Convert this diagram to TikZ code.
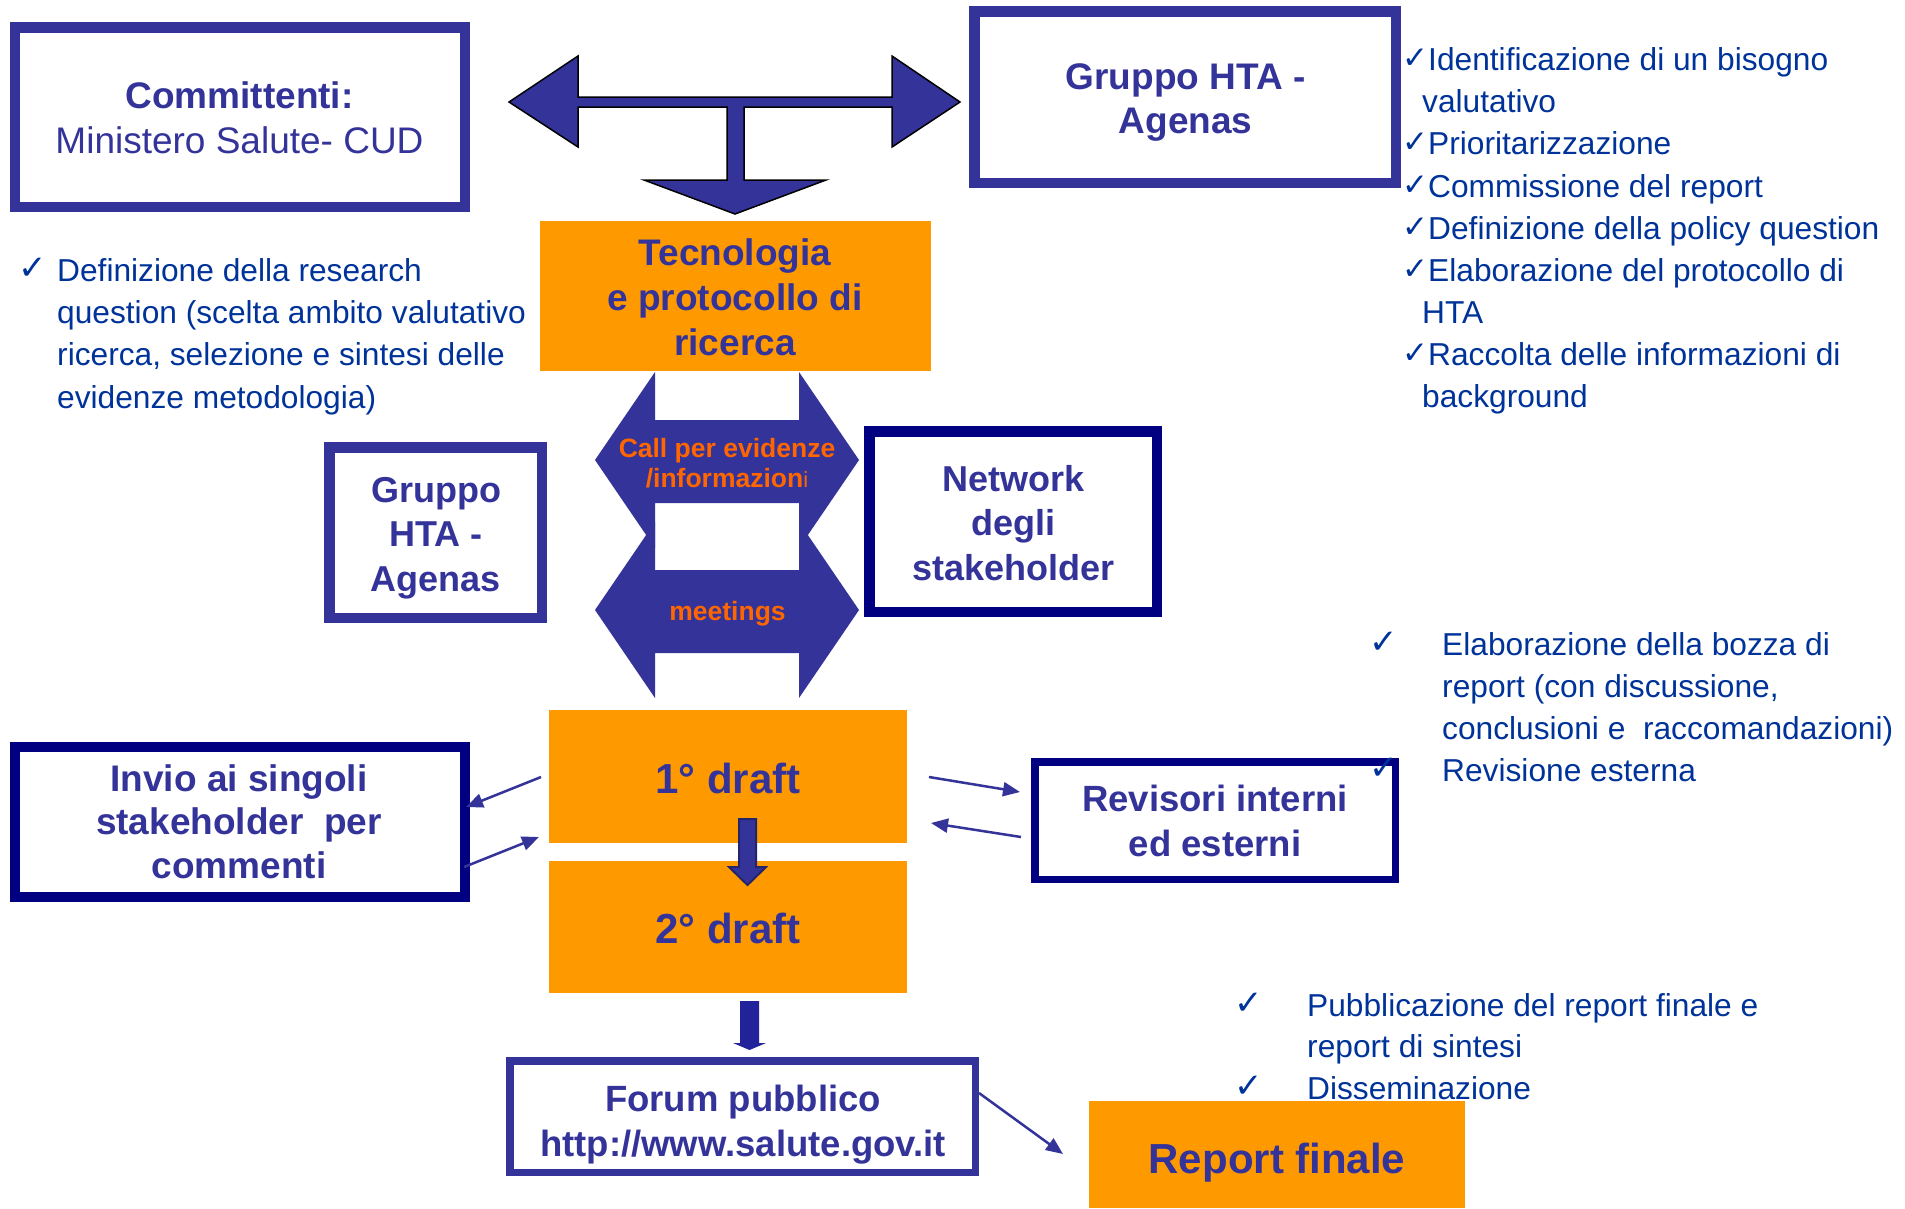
\documentclass[tikz,border=0pt]{standalone}
\usepackage{fontspec}
\setmainfont{Liberation Sans}
\newfontfamily\ckfont{DejaVu Sans}
\usetikzlibrary{arrows.meta}
\definecolor{hta}{HTML}{333399}
\definecolor{navyb}{HTML}{000080}
\definecolor{orng}{HTML}{FF9900}
\definecolor{bul}{HTML}{003399}
\definecolor{otxt}{HTML}{FF6600}
\definecolor{darr}{HTML}{22229A}
\newcommand\fs[2]{\fontsize{#1}{#2}\selectfont}
\newcommand\ctrlines[2]{\vtop{\baselineskip=#1pt\lineskiplimit=-100pt\lineskip=0pt\halign{\hfil##\hfil\cr#2\crcr}}}
\newcommand\leftlines[2]{\vtop{\baselineskip=#1pt\lineskiplimit=-100pt\lineskip=0pt\halign{##\hfil\cr#2\crcr}}}
\newcommand\ck{\kern-3pt\raisebox{2pt}{\ckfont\fs{34}{34}✓}}
\newcommand\ckb{\kern-3pt\raisebox{2pt}{\ckfont\bfseries\fs{31}{31}✓}}
\tikzset{
  bbox/.style={draw=hta, fill=white, line width=10.5pt, inner sep=0pt, outer sep=0pt},
  nbox/.style={draw=navyb, fill=white, line width=10.5pt, inner sep=0pt, outer sep=0pt},
  obox/.style={fill=orng, inner sep=0pt, outer sep=0pt},
  btext/.style={text=hta, font=\bfseries, inner sep=0pt, anchor=base},
  otext/.style={text=otxt, font=\bfseries, inner sep=0pt, anchor=base},
  ltext/.style={text=bul, inner sep=0pt, anchor=base west},
  thinarrow/.style={draw=hta, line width=2.5pt, -{Triangle[length=17pt,width=14pt]}},
  blockarrow/.style={fill=hta, draw=black, line width=1.5pt, line join=miter},
  midarrow/.style={fill=hta, draw=none},
  downarrow/.style={fill=hta, draw=hta!70!black, line width=2pt},
}
\begin{document}
\begin{tikzpicture}[x=1pt,y=-1pt]
\useasboundingbox (0,0) rectangle (1905,1208);
\fill[white] (0,0) rectangle (1905,1208);

% ---- boxes ----
\node[bbox, minimum width=450pt, minimum height=179.5pt] (committenti) at (239.8,117) {};
\node[bbox, minimum width=421.5pt, minimum height=171.5pt] (gruppo) at (1185,97) {};
\node[obox, minimum width=391pt, minimum height=150pt] (tecno) at (735.5,296) {};
\node[bbox, minimum width=212.5pt, minimum height=170.5pt] (gruppo2) at (435.5,532.5) {};
\node[nbox, minimum width=287.5pt, minimum height=180.5pt] (network) at (1013,521.5) {};
\node[nbox, minimum width=449.5pt, minimum height=149.5pt, line width=10pt] (invio) at (240,822) {};
\node[obox, minimum width=358pt, minimum height=133pt] (draft1) at (728,776.5) {};
\node[obox, minimum width=358pt, minimum height=132pt] (draft2) at (728,927) {};
\node[nbox, minimum width=360.5pt, minimum height=117.5pt, line width=7.5pt] (revisori) at (1215,820.5) {};
\node[bbox, minimum width=465.5pt, minimum height=111.5pt, line width=7.5pt] (forum) at (742.5,1116.5) {};
\node[obox, minimum width=376pt, minimum height=107pt] (report) at (1277,1154.5) {};

% ---- top T-shaped block arrow ----
\draw[blockarrow] (509,102) -- (578,56) -- (578,97) -- (892,97) -- (892,56) -- (960,102)
  -- (892,147) -- (892,107) -- (744,107) -- (744,180) -- (826,180) -- (735,214)
  -- (644,180) -- (727,180) -- (727,107) -- (578,107) -- (578,147) -- cycle;

% ---- middle double arrows ----
\fill[midarrow] (595,460) -- (655,372) -- (655,420) -- (799,420) -- (799,372) -- (859,460)
  -- (799,548) -- (799,503) -- (655,503) -- (655,548) -- cycle;
\fill[midarrow] (595,610) -- (655,522) -- (655,570) -- (799,570) -- (799,522) -- (859,610)
  -- (799,698) -- (799,653) -- (655,653) -- (655,698) -- cycle;

% ---- down block arrows ----
\draw[downarrow] (739,819) -- (756,819) -- (756,867) -- (766,867) -- (747.5,885) -- (729,867) -- (739,867) -- cycle;
\fill[darr] (740,1001) -- (759,1001) -- (759,1043) -- (766,1043) -- (749.5,1050) -- (733,1043) -- (740,1043) -- cycle;

% ---- thin arrows ----
\coordinate (a1s) at (541,777);  \coordinate (a1e) at (466,807);
\coordinate (a2s) at (464,867);  \coordinate (a2e) at (539,837);
\coordinate (a3s) at (929,777);  \coordinate (a3e) at (1020,792);
\coordinate (a4s) at (1021,837); \coordinate (a4e) at (931,823);
\coordinate (a5s) at (979,1093); \coordinate (a5e) at (1063,1154);
\draw[thinarrow] (a1s) -- (a1e);
\draw[thinarrow] (a2s) -- (a2e);
\draw[thinarrow] (a3s) -- (a3e);
\draw[thinarrow] (a4s) -- (a4e);
\draw[thinarrow] (a5s) -- (a5e);

% ---- box texts ----
\node[btext] (committentiT) at (239.5,108) {\fs{37}{45}\ctrlines{45}{Committenti:\cr\mdseries Ministero Salute- CUD}};
\node[btext] (gruppoT) at (1185.5,89) {\fs{37}{44}\ctrlines{44}{Gruppo HTA -\cr Agenas}};
\node[btext] (tecnoT) at (735,265) {\fs{37}{45}\ctrlines{45}{Tecnologia\cr e protocollo di\cr ricerca}};
\node[btext] (gruppo2T) at (436,502) {\fs{36}{44.5}\ctrlines{44.5}{Gruppo\cr HTA -\cr Agenas}};
\node[btext] (networkT) at (1013.5,491) {\fs{36}{44.5}\ctrlines{44.5}{Network\cr degli\cr stakeholder}};
\node[btext] (invioT) at (239,791) {\fs{37}{43.5}\ctrlines{43.5}{Invio ai singoli\cr stakeholder\ \ per\cr commenti}};
\node[btext] (revisoriT) at (1215,811.7) {\fs{36.5}{44.3}\ctrlines{44.3}{Revisori interni\cr ed esterni}};
\node[btext] (draft1T) at (728,793) {\fs{42}{50}1° draft};
\node[btext] (draft2T) at (728,943) {\fs{42}{50}2° draft};
\node[btext] (forumT) at (743,1111) {\fs{36.5}{45}\ctrlines{45}{Forum pubblico\cr http://www.salute.gov.it}};
\node[btext] (reportT) at (1277,1173) {\fs{42}{50}Report finale};
\node[otext] (callT) at (727,457) {\fs{26.5}{30}\ctrlines{30}{Call per evidenze\cr /informazion{\mdseries\fs{22}{22}i}}};
\node[otext] (meetT) at (727.5,620) {\fs{26.5}{30}meetings};

% ---- bullet lists ----
\node[ltext] (rqlist) at (21,281.5) {\fs{31.7}{42.2}\leftlines{42.2}{%
  \makebox[36pt][l]{\ck}Definizione della research\cr
  \kern36pt question (scelta ambito valutativo\cr
  \kern36pt ricerca, selezione e sintesi delle\cr
  \kern36pt evidenze metodologia)}};
\node[ltext] (htalist) at (1405,70.7) {\fs{31.7}{42.1}\leftlines{42.1}{%
  \makebox[23pt][l]{\ckb}Identificazione di un bisogno\cr
  \kern17pt valutativo\cr
  \makebox[23pt][l]{\ckb}Prioritarizzazione\cr
  \makebox[23pt][l]{\ckb}Commissione del report\cr
  \makebox[23pt][l]{\ckb}Definizione della policy question\cr
  \makebox[23pt][l]{\ckb}Elaborazione del protocollo di\cr
  \kern17pt HTA\cr
  \makebox[23pt][l]{\ckb}Raccolta delle informazioni di\cr
  \kern17pt background}};
\node[ltext] (elablist) at (1372,655) {\fs{31.7}{42.2}\leftlines{42.2}{%
  \makebox[70pt][l]{\ck}Elaborazione della bozza di\cr
  \kern70pt report (con discussione,\cr
  \kern70pt conclusioni e\ \ raccomandazioni)\cr
  \makebox[70pt][l]{\ck}Revisione esterna}};
\node[ltext] (publist) at (1237,1016) {\fs{31.7}{41.5}\leftlines{41.5}{%
  \makebox[70pt][l]{\ck}Pubblicazione del report finale e\cr
  \kern70pt report di sintesi\cr
  \makebox[70pt][l]{\ck}Disseminazione}};
\end{tikzpicture}
\end{document}
